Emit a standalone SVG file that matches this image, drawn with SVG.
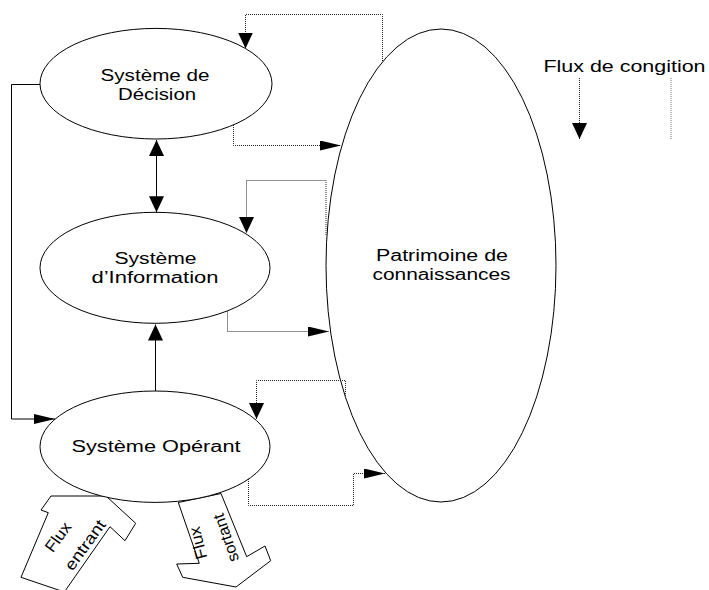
<svg xmlns="http://www.w3.org/2000/svg" width="709" height="590" viewBox="0 0 709 590">
<style>
.node{fill:#fff;stroke:#000;stroke-width:1}
.t{font-family:"Liberation Sans",Arial,sans-serif;font-size:16px;fill:#000;text-anchor:middle}
.solid{fill:none;stroke:#000;stroke-width:1}
.dot{fill:none;stroke:#222;stroke-width:1;stroke-dasharray:1 1}
</style>
<defs>
<marker id="aH" markerUnits="userSpaceOnUse" orient="auto" markerWidth="21" markerHeight="10" refX="21" refY="5"><path d="M0,0 L21,5 L0,10 z" fill="#000"/></marker>
<marker id="aV" markerUnits="userSpaceOnUse" orient="auto" markerWidth="16" markerHeight="15" refX="16" refY="7.5"><path d="M0,0 L16,7.5 L0,15 z" fill="#000"/></marker>
<marker id="aVs" markerUnits="userSpaceOnUse" orient="auto-start-reverse" markerWidth="16" markerHeight="15" refX="16" refY="7.5"><path d="M0,0 L16,7.5 L0,15 z" fill="#000"/></marker>
</defs>
<rect width="709" height="590" fill="#fff"/>

<g id="flux-entrant">
<polygon class="node" points="51,496 106,496 135.7,523.3 125,540.7 110,526.7 64.3,592 21,577.3 48.3,512.7 41,510"/>
<text class="t" transform="translate(58,537) rotate(-54)" y="5.5" textLength="33" lengthAdjust="spacingAndGlyphs">Flux</text>
<text class="t" transform="translate(85,545) rotate(-54)" y="5.5" textLength="58" lengthAdjust="spacingAndGlyphs">entrant</text>
</g>

<g id="flux-sortant">
<polygon class="node" points="178.3,502.5 221,493.5 246.7,556.7 265,546 270.7,560.7 236,587 182.7,577.3 176.7,564 199.3,563.3"/>
<text class="t" transform="translate(198,543) rotate(-104)" y="5.5" textLength="33" lengthAdjust="spacingAndGlyphs">Flux</text>
<text class="t" transform="translate(226,538) rotate(-109)" y="5.5" textLength="50" lengthAdjust="spacingAndGlyphs">sortant</text>
</g>

<g id="systeme-decision">
<ellipse class="node" cx="156" cy="83.7" rx="116" ry="55.3"/>
<text class="t" x="155" y="80.5" textLength="109" lengthAdjust="spacingAndGlyphs">Système de</text>
<text class="t" x="157" y="99.5" textLength="78" lengthAdjust="spacingAndGlyphs">Décision</text>
</g>

<g id="systeme-information">
<ellipse class="node" cx="155" cy="267.8" rx="115" ry="55.5"/>
<text class="t" x="155.5" y="264" textLength="82" lengthAdjust="spacingAndGlyphs">Système</text>
<text class="t" x="155" y="283" textLength="127" lengthAdjust="spacingAndGlyphs">d’Information</text>
</g>

<g id="systeme-operant">
<ellipse class="node" cx="155" cy="446.7" rx="115" ry="55.7"/>
<text class="t" x="156" y="452" textLength="169" lengthAdjust="spacingAndGlyphs">Système Opérant</text>
</g>

<g id="patrimoine">
<ellipse class="node" cx="441" cy="265.5" rx="115" ry="236.5"/>
<text class="t" x="442" y="261" textLength="132" lengthAdjust="spacingAndGlyphs">Patrimoine de</text>
<text class="t" x="441.5" y="279.5" textLength="138" lengthAdjust="spacingAndGlyphs">connaissances</text>
</g>

<g id="legende">
<text class="t" x="624.5" y="71.5" textLength="162" lengthAdjust="spacingAndGlyphs">Flux de congition</text>
<path class="dot" d="M579.5,78 L579.5,139" marker-end="url(#aV)"/>
<path class="dot" d="M671,78 L671,140" style="stroke:#777"/>
</g>

<g id="connectors">
<path class="solid" d="M156.5,140 L156.5,212.3" marker-start="url(#aVs)" marker-end="url(#aV)"/>
<path class="solid" d="M155.5,391 L155.5,324.5" marker-end="url(#aV)"/>
<path class="solid" d="M40,84.5 L11.5,84.5 L11.5,419 L55,419" marker-end="url(#aH)"/>
<path class="dot" d="M382.5,61 L382.5,14.5 L245.5,14.5 L245.5,48.5" marker-end="url(#aV)"/>
<path class="dot" d="M233.5,125 L233.5,145.5 L341,145.5" marker-end="url(#aH)"/>
<path class="dot" d="M326,235 L326,180.5 L246.5,180.5 L246.5,233" marker-end="url(#aV)"/>
<path class="dot" d="M227.5,311.5 L227.5,331.5 L329,331.5" marker-end="url(#aH)"/>
<path class="dot" d="M345.5,398 L345.5,380.5 L256.5,380.5 L256.5,419" marker-end="url(#aV)"/>
<path class="dot" d="M248.5,479 L248.5,505.5 L353.5,505.5 L353.5,473.5 L385,473.5" marker-end="url(#aH)"/>
</g>
</svg>
